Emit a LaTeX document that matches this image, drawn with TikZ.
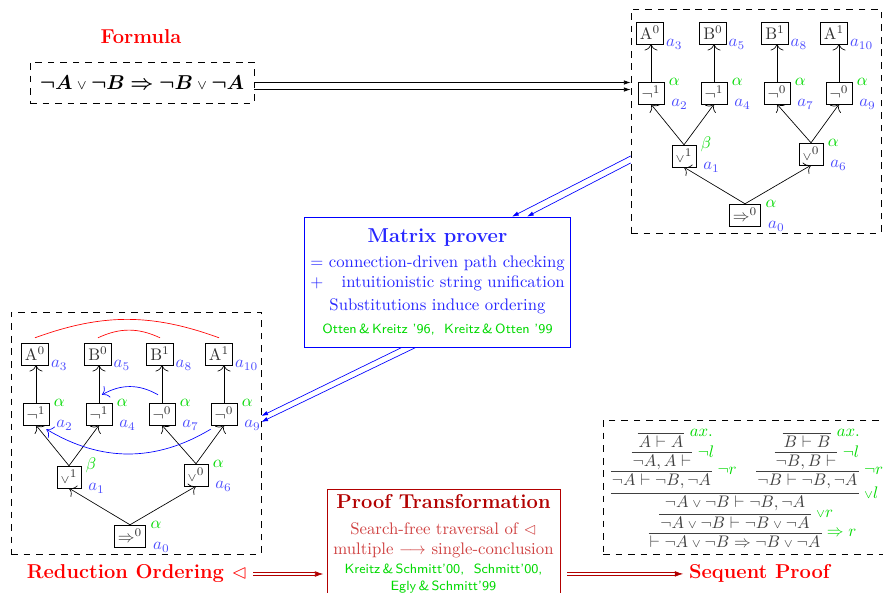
\documentclass[tikz,border=0pt]{standalone}
\usepackage{amsmath}
\usepackage{latexsym}
\usepackage{tikz}
\usetikzlibrary{arrows.meta,positioning,calc,fit}

\newcommand{\vor}{\mathbin{\scriptstyle\vee}}

\begin{document}
\begin{tikzpicture}[
    x=0.021cm,
    y=0.021cm,
    fnode/.style={draw, text=black!80, inner xsep=2.2pt, inner ysep=0pt, minimum height=13pt},
    idx/.style={text=blue!70, inner sep=1pt},
    kind/.style={text=green!85!black, inner sep=1pt},
    tedge/.style={-{Computer Modern Rightarrow[scale=1.5]}},
    dashbox/.style={draw, dash pattern=on 4pt off 3.5pt, inner sep=0pt},
    head/.style={font=\large\bfseries},
    link/.style={-{Latex[length=4pt,width=2.6pt]}},
    dlink/.style={double=white, double distance=1.3pt, red!70!black, -{Latex[length=5pt,width=3.4pt]}},
    seq/.style={text=black!75, inner xsep=0.5pt, inner ysep=1.2pt, text height=7pt, text depth=2pt},
    rlab/.style={text=green!85!black, inner sep=3pt},
    rule/.style={black!75}
  ]
    \useasboundingbox (0,0) rectangle (883,-593);

    % Formula
    \node[head, text=red, anchor=base] (ftitle) at (141,-44) {Formula};
    \node[dashbox, minimum width=4.7cm, minimum height=0.86cm] (formula) at (142,-82.5)
      {\large $\boldsymbol{\neg A}\vor\boldsymbol{\neg B}\mathrel{\boldsymbol{\Rightarrow}}\boldsymbol{\neg B}\vor\boldsymbol{\neg A}$};

    % dashed frames
    \node[dashbox, fit={(631,-9) (881,-233)}] (tbox) {};
    \node[dashbox, fit={(11,-312) (261,-554)}] (bbox) {};
    \node[dashbox, fit={(603,-420) (900,-554)}] (pbox) {};

    % formula trees (top right, bottom left)
    \foreach \pre/\ox/\oy in {t/745/215, b/130/536}{
      \begin{scope}[shift={(\ox,-\oy)}, name prefix=\pre-]
        \node[fnode] (A0) at (-95,182) {A$^0$};
        \node[fnode] (B0) at (-32,182) {B$^0$};
        \node[fnode] (B1) at (30,182) {B$^1$};
        \node[fnode] (A1) at (89,182) {A$^1$};
        \node[fnode] (n2) at (-94,122) {$\neg^1$};
        \node[fnode] (n4) at (-31,122) {$\neg^1$};
        \node[fnode] (n7) at (32,122) {$\neg^0$};
        \node[fnode] (n9) at (94,122) {$\neg^0$};
        \node[fnode] (o1) at (-61,59) {${\vor}^1$};
        \node[fnode] (o6) at (66,61) {${\vor}^0$};
        \node[fnode] (i0) at (0,0) {$\Rightarrow^0$};
        \foreach \n/\i in {A0/3, B0/5, B1/8, A1/10}
          \node[idx, anchor=west] (k\n) at (\n.south east) {$a_{\i}$};
        \foreach \n/\g/\i in {n2/\alpha/2, n4/\alpha/4, n7/\alpha/7, n9/\alpha/9, o1/\beta/1, o6/\alpha/6, i0/\alpha/0}{
          \node[kind, anchor=west] (g\n) at ([xshift=1.5pt]\n.north east) {$\g$};
          \node[idx, anchor=west] (k\n) at ([xshift=3pt]\n.south east) {$a_{\i}$};
        }
        \foreach \s/\t in {n2/A0, n4/B0, n7/B1, n9/A1}
          \draw[tedge] (\s.north) -- (\s.north |- \t.south);
        \foreach \s/\t in {o1/n2, o1/n4, o6/n7, o6/n9, i0/o1, i0/o6}
          \draw[tedge] (\s.north) -- (\t.south);
      \end{scope}
    }

    % connections and ordering
    \draw[red] ($(b-A0.north)+(0,5)$) to[bend left=20] ($(b-A1.north)+(0,5)$);
    \draw[red] ($(b-B0.north)+(0,5)$) to[bend left=25] ($(b-B1.north)+(0,5)$);
    \draw[tedge, blue] ($(b-n7.north)+(-4,8)$) to[bend right=30] ($(b-n4.north)+(3,8)$);
    \draw[tedge, blue] ($(b-n9.south west)+(0,-4)$) to[bend left=31] ($(b-n2.south east)+(-3,-4)$);

    % matrix prover
    \node[draw=blue, text=blue!85, align=center, minimum width=5.565cm, minimum height=2.73cm] (mprover) at (437.5,-282)
      {{\large\bfseries Matrix prover}\\[3pt]
       \begin{tabular}[t]{@{}c@{\ }r@{}}$=$&connection-driven path checking\\$+$&intuitionistic string unification\end{tabular}\\[2pt]
       Substitutions induce ordering\\[2pt]
       {\footnotesize\sffamily\color{green!85!black}Otten\,\&\,Kreitz '96, \ Kreitz\,\&\,Otten '99}};

    % proof transformation
    \node[draw=red!70!black, text=red!75!black!75, align=center, minimum width=4.893cm, anchor=north] (ptrans) at (443.5,-489)
      {{\large\bfseries\color{red!70!black}Proof Transformation}\\[3.5pt]
       Search-free traversal of $\lhd$\\[-0.5pt]
       multiple $\longrightarrow$ single-conclusion\\[-0.3pt]
       {\footnotesize\sffamily\color{green!85!black}Kreitz\,\&\,Schmitt'00, \ Schmitt'00,}\\[-1.7pt]
       {\footnotesize\sffamily\color{green!85!black}Egly\,\&\,Schmitt'99}};

    \node[head, text=red, anchor=base] (redord) at (137,-579) {Reduction Ordering $\lhd$};
    \node[head, text=red, anchor=base] (seqp) at (759.5,-579) {Sequent Proof};

    % sequent proof
    \node[seq] (sA1) at (661,-443) {$A \vdash A$};
    \node[seq] (sA2) at (662,-462) {$\neg A, A \vdash$};
    \node[seq] (sA3) at (661.5,-481) {$\neg A \vdash \neg B, \neg A$};
    \node[seq] (sB1) at (807,-443) {$B \vdash B$};
    \node[seq] (sB2) at (806,-462) {$\neg B, B \vdash$};
    \node[seq] (sB3) at (807.5,-481) {$\neg B \vdash \neg B, \neg A$};
    \node[seq] (s4) at (735,-503) {$\neg A \vor \neg B \vdash \neg B, \neg A$};
    \node[seq] (s5) at (735,-524) {$\neg A \vor \neg B \vdash \neg B \vor \neg A$};
    \node[seq] (s6) at (735,-543) {$\vdash \neg A \vor \neg B \Rightarrow \neg B \vor \neg A$};
    \draw[rule] (sA1.north west) -- (sA1.north east) node[rlab, right] (rA1) {$ax.$};
    \draw[rule] (sA2.north west) -- (sA2.north east) node[rlab, right] (rA2) {$\neg l$};
    \draw[rule] (sA3.north west) -- (sA3.north east) node[rlab, right] (rA3) {$\neg r$};
    \draw[rule] (sB1.north west) -- (sB1.north east) node[rlab, right] (rB1) {$ax.$};
    \draw[rule] (sB2.north west) -- (sB2.north east) node[rlab, right] (rB2) {$\neg l$};
    \draw[rule] (sB3.north west) -- (sB3.north east) node[rlab, right] (rB3) {$\neg r$};
    \draw[rule] (sA3.west |- s4.north) -- (sB3.east |- s4.north) node[rlab, right] (r4) {$\vor l$};
    \draw[rule] (s5.north west) -- (s5.north east) node[rlab, right] (r5) {$\vor r$};
    \draw[rule] (s6.north west) -- (s6.north east) node[rlab, right] (r6) {$\Rightarrow r$};

    % arrows between stages
    \draw[link] (formula.east) -- (formula.east -| tbox.west);
    \draw[link] ([yshift=-4.2pt]formula.east) -- ([yshift=-4.2pt]formula.east -| tbox.west);
    \draw[link, blue] ($(tbox.west)+(0,-35)$) -- ($(mprover.north)+(74.5,0)$);
    \draw[link, blue] ($(tbox.west)+(0,-42)$) -- ($(mprover.north)+(89.5,0)$);
    \draw[link, blue] ($(mprover.south)+(-35.5,0)$) -- ($(bbox.east)+(0,17)$);
    \draw[link, blue] ($(mprover.south)+(-21.5,0)$) -- ($(bbox.east)+(0,11)$);
    \draw[dlink, shorten >=2pt] (redord.east) -- (redord.east -| ptrans.west);
    \draw[dlink, shorten <=4pt] (seqp.west -| ptrans.east) -- (seqp.west);
  \end{tikzpicture}
\end{document}
